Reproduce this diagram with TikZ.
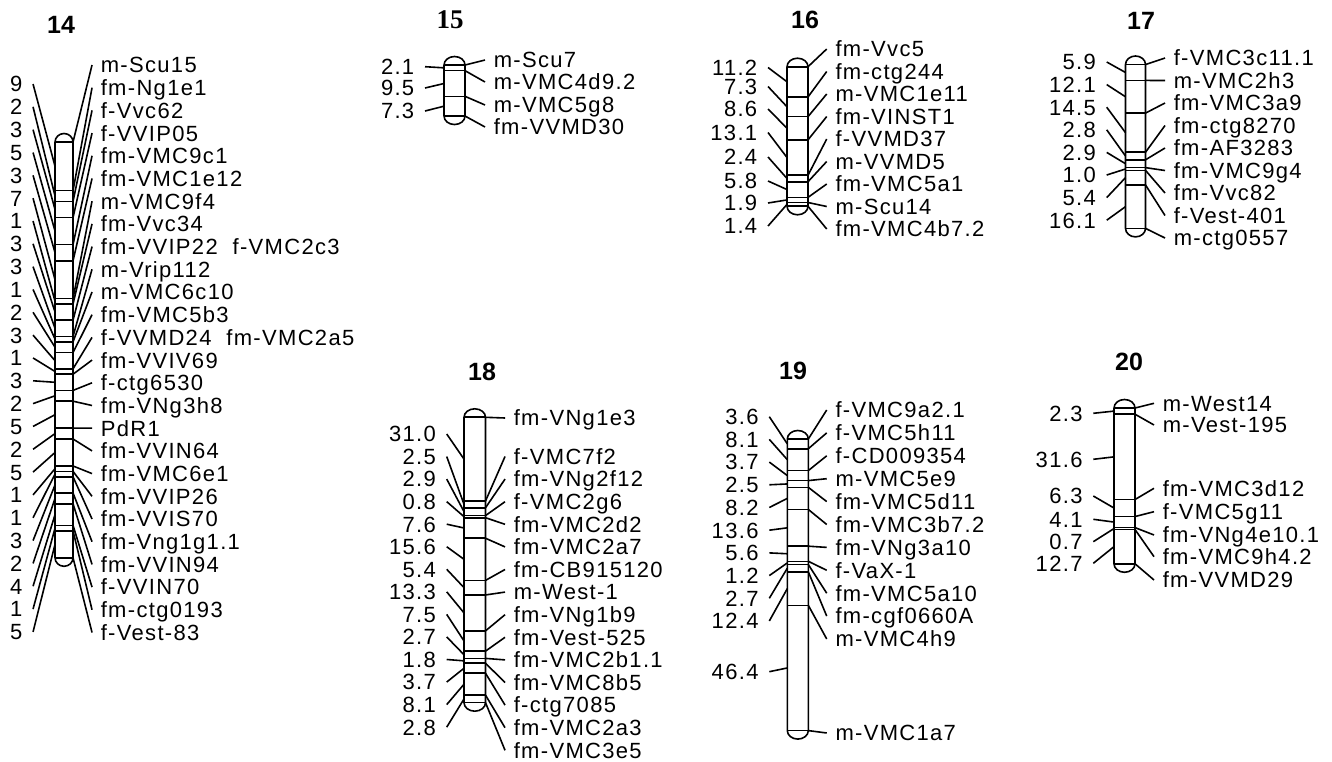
\documentclass[tikz,border=0pt]{standalone}
\usepackage{fontspec}
\setmainfont{Liberation Sans}
\newfontfamily\mapfont[LetterSpace=6]{Liberation Sans}
\newfontfamily\serfont{Liberation Serif}

\begin{document}
\begin{tikzpicture}[x=0.5pt, y=-0.5pt, line width=0.8pt,
    bar/.style={line width=0.8pt},
    lbl/.style={font=\mapfont\fontsize{11}{13}\selectfont, anchor=west,
      inner xsep=4pt, inner ysep=0pt, text height=7.9pt, text depth=0pt},
    num/.style={lbl, anchor=east, inner xsep=5pt},
    ttl/.style={font=\bfseries\fontsize{12.5}{14}\selectfont, inner sep=0pt}]

    \path[fill=white] (0,0) rectangle (1332,762);

    % chr14
    \def\barL{55}\def\barR{73}\def\barT{142}\def\barS{5.4}
    \node[ttl] (t14) at (61,25) {14};
    \draw[bar] (\barL,\barT) arc[start angle=180,end angle=0,x radius=4.5pt,y radius=4.25pt]
      -- (\barR,\barT+77*\barS) arc[start angle=0,end angle=-180,x radius=4.5pt,y radius=4.25pt] -- cycle;
    \foreach \cm/\txt [count=\i] in {0/m-Scu15, 9/fm-Ng1e1, 11/f-Vvc62, 14/f-VVIP05,
      19/fm-VMC9c1, 22/fm-VMC1e12, 29/m-VMC9f4, 30/fm-Vvc34, 33/{fm-VVIP22~~f-VMC2c3},
      36/m-Vrip112, 37/m-VMC6c10, 39/fm-VMC5b3, 42/{f-VVMD24~~fm-VMC2a5}, 43/fm-VVIV69,
      46/f-ctg6530, 48/fm-VNg3h8, 53/PdR1, 55/fm-VVIN64, 60/fm-VMC6e1, 61/fm-VVIP26,
      62/fm-VVIS70, 65/fm-Vng1g1.1, 67/fm-VVIN94, 71/f-VVIN70, 72/fm-ctg0193, 77/f-Vest-83}
    { \path (\barL,\barT+\cm*\barS) coordinate (q14-\i) (\barR,\barT+\cm*\barS) coordinate (m14-\i);
      \draw (q14-\i) -- (m14-\i);
      \node[lbl] (r14-\i) at (92,65+22.7*\i-22.7) {\txt};
      \draw (m14-\i) -- (r14-\i.west); }
    \foreach \cm/\txt [count=\j] in {4.5/9, 10/2, 12.5/3, 16.5/5, 20.5/3, 25.5/7, 29.5/1,
      31.5/3, 34.5/3, 36.5/1, 38/2, 40.5/3, 42.5/1, 44.5/3, 47/2, 50.5/5, 54/2, 57.5/5,
      60.5/1, 61.5/1, 63.5/3, 66/2, 69/4, 71.5/1, 74.5/5}
    { \path (\barL,\barT+\cm*\barS) coordinate (p14-\j);
      \node[num] (l14-\j) at (33,84+22.83*\j-22.83) {\txt};
      \draw (l14-\j.east) -- (p14-\j); }

    % chr15
    \def\barL{444}\def\barR{465}\def\barT{65}\def\barS{2.7}
    \node[ttl, font=\serfont\bfseries\fontsize{13.5}{15}\selectfont] (t15) at (450,20) {15};
    \draw[bar] (\barL,\barT) arc[start angle=180,end angle=0,x radius=5.25pt,y radius=4.25pt]
      -- (\barR,\barT+18.9*\barS) arc[start angle=0,end angle=-180,x radius=5.25pt,y radius=4.25pt] -- cycle;
    \foreach \cm/\y/\txt [count=\i] in {0/60/m-Scu7, 2.1/82/m-VMC4d9.2, 11.6/105/m-VMC5g8,
      18.9/127/fm-VVMD30}
    { \path (\barL,\barT+\cm*\barS) coordinate (q15-\i) (\barR,\barT+\cm*\barS) coordinate (m15-\i);
      \draw (q15-\i) -- (m15-\i);
      \node[lbl] (r15-\i) at (485,\y) {\txt};
      \draw (m15-\i) -- (r15-\i.west); }
    \foreach \cm/\y/\txt [count=\j] in {1.05/66.7/2.1, 6.85/88/9.5, 15.25/111/7.3}
    { \path (\barL,\barT+\cm*\barS) coordinate (p15-\j);
      \node[num] (l15-\j) at (425,\y) {\txt};
      \draw (l15-\j.east) -- (p15-\j); }

    % chr16
    \def\barL{787}\def\barR{808}\def\barT{66.7}\def\barS{2.7}
    \node[ttl] (t16) at (805,20) {16};
    \draw[bar] (\barL,\barT) arc[start angle=180,end angle=0,x radius=5.25pt,y radius=4.25pt]
      -- (\barR,\barT+51.7*\barS) arc[start angle=0,end angle=-180,x radius=5.25pt,y radius=4.25pt] -- cycle;
    \foreach \cm/\y/\txt [count=\i] in {0/49/fm-Vvc5, 11.2/71.5/fm-ctg244, 18.5/94/m-VMC1e11,
      27.1/116.5/fm-VINST1, 40.2/139/f-VVMD37, 42.6/161.5/m-VVMD5, 48.4/184/fm-VMC5a1,
      50.3/206.5/m-Scu14, 51.7/229/fm-VMC4b7.2}
    { \path (\barL,\barT+\cm*\barS) coordinate (q16-\i) (\barR,\barT+\cm*\barS) coordinate (m16-\i);
      \draw (q16-\i) -- (m16-\i);
      \node[lbl] (r16-\i) at (826.7,\y) {\txt};
      \draw (m16-\i) -- (r16-\i.west); }
    \foreach \cm/\y/\txt [count=\j] in {5.6/67.5/11.2, 14.85/86.5/7.3, 22.8/109/8.6,
      33.65/132.5/13.1, 41.4/157/2.4, 45.5/181/5.8, 49.35/203/1.9, 51/226/1.4}
    { \path (\barL,\barT+\cm*\barS) coordinate (p16-\j);
      \node[num] (l16-\j) at (768,\y) {\txt};
      \draw (l16-\j.east) -- (p16-\j); }

    % chr17
    \def\barL{1125.5}\def\barR{1145.5}\def\barT{64.5}\def\barS{2.7}
    \node[ttl] (t17) at (1141,21) {17};
    \draw[bar] (\barL,\barT) arc[start angle=180,end angle=0,x radius=5pt,y radius=4.25pt]
      -- (\barR,\barT+60.7*\barS) arc[start angle=0,end angle=-180,x radius=5pt,y radius=4.25pt] -- cycle;
    \foreach \cm/\y/\txt [count=\i] in {0/58/f-VMC3c11.1, 5.9/80.5/m-VMC2h3, 18/103/fm-VMC3a9,
      32.5/125.5/fm-ctg8270, 35.3/148/fm-AF3283, 38.2/170.5/fm-VMC9g4, 39.2/193/fm-Vvc82,
      44.6/215.5/f-Vest-401, 60.7/238/m-ctg0557}
    { \path (\barL,\barT+\cm*\barS) coordinate (q17-\i) (\barR,\barT+\cm*\barS) coordinate (m17-\i);
      \draw (q17-\i) -- (m17-\i);
      \node[lbl] (r17-\i) at (1165,\y) {\txt};
      \draw (m17-\i) -- (r17-\i.west); }
    \foreach \cm/\y/\txt [count=\j] in {2.95/62/5.9, 11.95/84.6/12.1, 25.25/107.2/14.5,
      33.9/129.8/2.8, 36.75/152.4/2.9, 38.7/175/1.0, 41.9/197.6/5.4, 52.65/220.2/16.1}
    { \path (\barL,\barT+\cm*\barS) coordinate (p17-\j);
      \node[num] (l17-\j) at (1106.7,\y) {\txt};
      \draw (l17-\j.east) -- (p17-\j); }

    % chr18
    \def\barL{464}\def\barR{485.5}\def\barT{417.3}\def\barS{2.7}
    \node[ttl] (t18) at (482,372) {18};
    \draw[bar] (\barL,\barT) arc[start angle=180,end angle=0,x radius=5.375pt,y radius=4.25pt]
      -- (\barR,\barT+105.7*\barS) arc[start angle=0,end angle=-180,x radius=5.375pt,y radius=4.25pt] -- cycle;
    \foreach \cm/\y/\txt [count=\i] in {0/418/fm-VNg1e3, 31/456.5/f-VMC7f2, 33.5/479.1/fm-VNg2f12,
      36.4/501.7/f-VMC2g6, 37.2/524.3/fm-VMC2d2, 44.8/546.9/fm-VMC2a7, 60.4/569.5/fm-CB915120,
      65.8/592.1/m-West-1, 79.1/614.7/fm-VNg1b9, 86.6/637.3/fm-Vest-525, 89.3/659.9/fm-VMC2b1.1,
      91.1/682.5/fm-VMC8b5, 94.8/705.1/f-ctg7085, 102.9/727.7/fm-VMC2a3, 105.7/750.3/fm-VMC3e5}
    { \path (\barL,\barT+\cm*\barS) coordinate (q18-\i) (\barR,\barT+\cm*\barS) coordinate (m18-\i);
      \draw (q18-\i) -- (m18-\i);
      \node[lbl] (r18-\i) at (505,\y) {\txt};
      \draw (m18-\i) -- (r18-\i.west); }
    \foreach \cm/\txt [count=\j] in {15.5/31.0, 32.25/2.5, 34.95/2.9, 36.8/0.8, 41/7.6,
      52.6/15.6, 63.1/5.4, 72.45/13.3, 82.85/7.5, 87.95/2.7, 90.2/1.8, 92.95/3.7,
      98.85/8.1, 104.3/2.8}
    { \path (\barL,\barT+\cm*\barS) coordinate (p18-\j);
      \node[num] (l18-\j) at (446.7,434+22.55*\j-22.55) {\txt};
      \draw (l18-\j.east) -- (p18-\j); }

    % chr19
    \def\barL{787.3}\def\barR{808.3}\def\barT{439}\def\barS{2.7}
    \node[ttl] (t19) at (793,371) {19};
    \draw[bar] (\barL,\barT) arc[start angle=180,end angle=0,x radius=5.25pt,y radius=4.25pt]
      -- (\barR,\barT+108*\barS) arc[start angle=0,end angle=-180,x radius=5.25pt,y radius=4.25pt] -- cycle;
    \foreach \cm/\y/\txt [count=\i] in {0/410/f-VMC9a2.1, 3.6/432.9/f-VMC5h11, 11.7/455.8/f-CD009354,
      15.4/478.7/m-VMC5e9, 17.9/501.6/fm-VMC5d11, 26.1/524.5/fm-VMC3b7.2, 39.7/547.4/fm-VNg3a10,
      45.3/570.3/f-VaX-1, 46.5/593.2/fm-VMC5a10, 49.2/616.1/fm-cgf0660A, 61.6/639/m-VMC4h9,
      108/733/m-VMC1a7}
    { \path (\barL,\barT+\cm*\barS) coordinate (q19-\i) (\barR,\barT+\cm*\barS) coordinate (m19-\i);
      \draw (q19-\i) -- (m19-\i);
      \node[lbl] (r19-\i) at (826.7,\y) {\txt};
      \draw (m19-\i) -- (r19-\i.west); }
    \foreach \cm/\y/\txt [count=\j] in {1.8/416.7/3.6, 7.65/439.4/8.1, 13.55/462.1/3.7,
      16.65/484.8/2.5, 22/507.5/8.2, 32.9/530.2/13.6, 42.5/552.9/5.6, 45.9/575.6/1.2,
      47.85/598.3/2.7, 55.4/621/12.4, 84.8/671.7/46.4}
    { \path (\barL,\barT+\cm*\barS) coordinate (p19-\j);
      \node[num] (l19-\j) at (769.3,\y) {\txt};
      \draw (l19-\j.east) -- (p19-\j); }

    % chr20
    \def\barL{1114}\def\barR{1135}\def\barT{408}\def\barS{2.7}
    \node[ttl] (t20) at (1129,362) {20};
    \draw[bar] (\barL,\barT) arc[start angle=180,end angle=0,x radius=5.25pt,y radius=4.25pt]
      -- (\barR,\barT+57.7*\barS) arc[start angle=0,end angle=-180,x radius=5.25pt,y radius=4.25pt] -- cycle;
    \foreach \cm/\y/\txt [count=\i] in {0/403.3/m-West14, 2.3/425/m-Vest-195, 33.9/488.3/fm-VMC3d12,
      40.2/511.7/f-VMC5g11, 44.3/535/fm-VNg4e10.1, 45/556.7/fm-VMC9h4.2, 57.7/580/fm-VVMD29}
    { \path (\barL,\barT+\cm*\barS) coordinate (q20-\i) (\barR,\barT+\cm*\barS) coordinate (m20-\i);
      \draw (q20-\i) -- (m20-\i);
      \node[lbl] (r20-\i) at (1154,\y) {\txt};
      \draw (m20-\i) -- (r20-\i.west); }
    \foreach \cm/\y/\txt [count=\j] in {1.15/413.3/2.3, 18.1/459.3/31.6, 37.05/496/6.3,
      42.25/519.3/4.1, 44.65/541.7/0.7, 51.35/563.3/12.7}
    { \path (\barL,\barT+\cm*\barS) coordinate (p20-\j);
      \node[num] (l20-\j) at (1093.3,\y) {\txt};
      \draw (l20-\j.east) -- (p20-\j); }
  \end{tikzpicture}
\end{document}
